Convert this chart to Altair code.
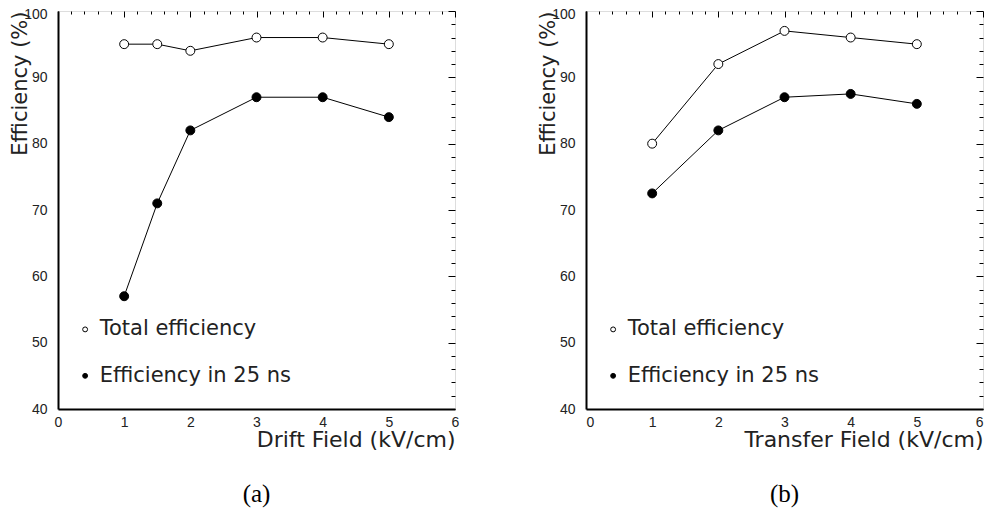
import altair as alt
import pandas as pd

# ---- data ----
drift_x = [1, 1.5, 2, 3, 4, 5]
drift_total = [95, 95, 94, 96, 96, 95]
drift_25ns = [57, 71, 82, 87, 87, 84]

transfer_x = [1, 2, 3, 4, 5]
transfer_total = [80, 92, 97, 96, 95]
transfer_25ns = [72.5, 82, 87, 87.5, 86]

series_names = ["Total efficiency", "Efficiency in 25 ns"]
legend_x = [0.41, 0.41]
legend_text_x = [0.63, 0.63]
legend_y = [52, 45]

x_major = [0, 1, 2, 3, 4, 5, 6]
x_minor = [round(0.2 * i, 1) for i in range(31) if i % 5 != 0]
y_major = [40, 50, 60, 70, 80, 90, 100]
y_minor = [v for v in range(40, 101, 2) if v % 10 != 0]

FONT = "DejaVu Sans"
LFONT = "Liberation Sans"
TXT = "#222222"
W, H = 397, 398


def panel(xs, total, fast, xtitle, caption, flush):
    df = pd.DataFrame({
        "x": xs + xs,
        "v": total + fast,
        "series": [series_names[0]] * len(xs) + [series_names[1]] * len(xs),
    })
    leg = pd.DataFrame({
        "x": legend_x, "tx": legend_text_x, "y": legend_y,
        "label": series_names, "kind": ["open", "filled"],
    })
    xs_scale = alt.Scale(domain=[0, 6], nice=False, zero=False)
    ys_scale = alt.Scale(domain=[40, 100], nice=False, zero=False)

    main_x = alt.Axis(values=x_major, ticks=False, tickSize=0, labelPadding=6,
                      domainColor="black", domainWidth=2, grid=False,
                      labelFont=LFONT, labelFontSize=14, labelColor=TXT,
                      labelFlush=flush,
                      title=xtitle, titleFont=FONT, titleFontSize=22,
                      titleFontWeight="normal", titleColor=TXT,
                      titleAnchor="end", titleY=37, titleBaseline="alphabetic")
    main_y = alt.Axis(values=y_major, ticks=False, tickSize=0, labelPadding=11,
                      domainColor="black", domainWidth=2, grid=False,
                      labelFont=LFONT, labelFontSize=14, labelColor=TXT,
                      labelFlush=False,
                      labelOffset={"condition": {"test": "datum.value == 100",
                                                 "value": 3}, "value": 0},
                      title="Efficiency (%)", titleFont=FONT, titleFontSize=21,
                      titleFontWeight="normal", titleColor=TXT,
                      titleAnchor="end", titleAlign="right", titleAngle=270,
                      titleX=-32, titleY=0, titleBaseline="alphabetic")
    maj_x = alt.Axis(values=x_major, offset=-6, tickSize=6, tickColor="black",
                     domain=False, labels=False, title=None, grid=False)
    maj_y = alt.Axis(values=y_major, offset=-7, tickSize=7, tickColor="black",
                     domain=False, labels=False, title=None, grid=False)
    min_x = alt.Axis(values=x_minor, offset=-3, tickSize=3, tickColor="black",
                     domain=False, labels=False, title=None, grid=False)
    min_y = alt.Axis(values=y_minor, offset=-4, tickSize=4, tickColor="black",
                     domain=False, labels=False, title=None, grid=False)

    lines = alt.Chart(df).mark_line(color="black", strokeWidth=1).encode(
        x=alt.X("x:Q", scale=xs_scale, axis=main_x),
        y=alt.Y("v:Q", scale=ys_scale, axis=main_y),
        detail="series:N",
    )
    open_pts = alt.Chart(df).transform_filter(
        alt.datum.series == series_names[0]
    ).mark_point(shape="circle", filled=True, fill="white", stroke="black",
                 strokeWidth=1, size=80, opacity=1).encode(
        x=alt.X("x:Q", scale=xs_scale, axis=maj_x),
        y=alt.Y("v:Q", scale=ys_scale, axis=maj_y),
    )
    filled_pts = alt.Chart(df).transform_filter(
        alt.datum.series == series_names[1]
    ).mark_point(shape="circle", filled=True, fill="black", stroke="black",
                 strokeWidth=1, size=80, opacity=1).encode(
        x=alt.X("x:Q", scale=xs_scale, axis=min_x),
        y=alt.Y("v:Q", scale=ys_scale, axis=min_y),
    )
    leg_pts = alt.Chart(leg).mark_point(shape="circle", filled=True,
                                        stroke="black", strokeWidth=1,
                                        size=24, opacity=1).encode(
        x=alt.X("x:Q", scale=xs_scale, axis=None),
        y=alt.Y("y:Q", scale=ys_scale, axis=None),
        fill=alt.Fill("kind:N", scale=alt.Scale(domain=["open", "filled"],
                                                range=["white", "black"]),
                      legend=None),
    )
    leg_txt = alt.Chart(leg).mark_text(align="left", baseline="middle",
                                       font=FONT, fontSize=21, color=TXT).encode(
        x=alt.X("tx:Q", scale=xs_scale, axis=None),
        y=alt.Y("y:Q", scale=ys_scale, axis=None),
        text="label:N",
    )
    return alt.layer(lines, open_pts, filled_pts, leg_pts, leg_txt).resolve_axis(
        x="independent", y="independent"
    ).properties(
        width=W, height=H,
        title=alt.TitleParams(caption, orient="bottom", font="Liberation Serif",
                              fontSize=25, fontWeight="normal", color="black",
                              offset=32),
    )


left = panel(drift_x, drift_total, drift_25ns, "Drift Field (kV/cm)", "(a)", False)
right = panel(transfer_x, transfer_total, transfer_25ns,
              "Transfer Field (kV/cm)", "(b)", True)

chart = alt.hconcat(left, right, spacing=76).properties(
    padding={"left": 0, "top": -2, "right": 0, "bottom": 0}
).configure_view(
    stroke="#555555", strokeWidth=1.5
).configure(background="white")

chart.save("out.html", embed_options={"renderer": "svg", "actions": False})
